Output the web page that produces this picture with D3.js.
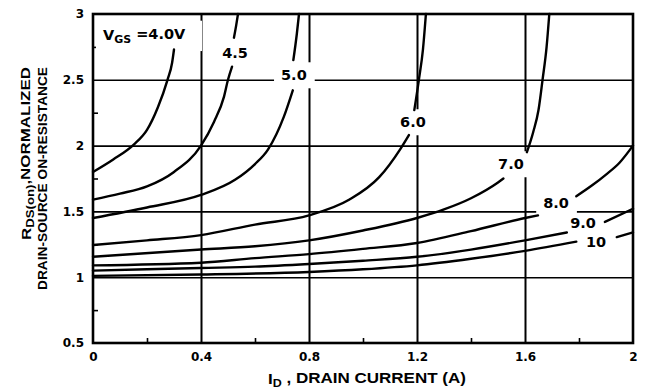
<!DOCTYPE html>
<html>
<head>
<meta charset="utf-8">
<script src="https://cdn.jsdelivr.net/npm/d3@7"></script>
<style>
  html, body { margin: 0; padding: 0; background: #fff; }
  svg { display: block; }
</style>
</head>
<body>
<svg id="chart" width="645" height="392"></svg>
<script>
// Gate-source voltage of each curve
const vgsLabels = ["4.0", "4.5", "5.0", "6.0", "7.0", "8.0", "9.0", "10"];

// [I_D (A), normalized R_DS(on)]; null breaks a curve where its label sits
const curve40 = [[0, 1.80], [0.075, 1.895], [0.152, 2.01], [0.2, 2.12], [0.24, 2.29], [0.276, 2.5], [0.293, 2.63], [0.30, 2.73]];
const curve45 = [[0, 1.59], [0.1, 1.635], [0.2, 1.69], [0.3, 1.80], [0.4, 2.0], [0.448, 2.18], [0.485, 2.37], [0.5, 2.5], [0.515, 2.6], null, [0.522, 2.82], [0.53, 2.91], [0.537, 3.0]];
const curve50 = [[0, 1.45], [0.2, 1.53], [0.4, 1.625], [0.526, 1.74], [0.6, 1.86], [0.648, 1.97], [0.707, 2.22], [0.74, 2.42], null, [0.742, 2.65], [0.755, 2.85], [0.763, 3.0]];
const curve60 = [[0, 1.245], [0.2, 1.28], [0.4, 1.32], [0.6, 1.40], [0.8, 1.47], [0.95, 1.59], [1.06, 1.76], [1.137, 1.97], [1.17, 2.08], null, [1.19, 2.27], [1.207, 2.5], [1.222, 2.73], [1.233, 3.0]];
const curve70 = [[0, 1.155], [0.4, 1.21], [0.6, 1.235], [0.8, 1.28], [1.0, 1.355], [1.2, 1.45], [1.3, 1.515], [1.4, 1.60], [1.5, 1.72], [1.52, 1.75], null, [1.607, 1.95], [1.63, 2.1], [1.65, 2.27], [1.665, 2.5], [1.68, 2.75], [1.69, 3.0]];
const curve80 = [[0, 1.09], [0.4, 1.11], [0.6, 1.145], [0.8, 1.175], [1.0, 1.215], [1.2, 1.26], [1.4, 1.35], [1.6, 1.45], [1.648, 1.47], null, [1.79, 1.615], [1.85, 1.70], [1.9, 1.78], [1.95, 1.87], [2.0, 2.0]];
const curve90 = [[0, 1.05], [0.4, 1.07], [0.6, 1.08], [0.8, 1.10], [1.0, 1.125], [1.2, 1.155], [1.4, 1.21], [1.6, 1.28], [1.755, 1.34], null, [1.896, 1.42], [2.0, 1.52]];
const curve100 = [[0, 1.01], [0.4, 1.02], [0.8, 1.04], [1.0, 1.06], [1.2, 1.09], [1.4, 1.14], [1.6, 1.20], [1.79, 1.27], null, [1.94, 1.305], [2.0, 1.34]];
const curves = [curve40, curve45, curve50, curve60, curve70, curve80, curve90, curve100];

// Where each curve's label is placed, in data units [I_D, R]
const labelAt = [[0.037, 2.844], [0.526, 2.704], [0.744, 2.536], [1.185, 2.179], [1.548, 1.860], [1.715, 1.564], [1.815, 1.412], [1.863, 1.267]];

// Axis ticks
const xTicks = [0, 0.4, 0.8, 1.2, 1.6, 2];
const yTicks = [0.5, 1, 1.5, 2, 2.5, 3];
const xGrid = [0.4, 0.8, 1.2, 1.6];
const yGrid = [1, 1.5, 2, 2.5];
const xMinor = [0.2, 0.6, 1.0, 1.4, 1.8];
const yMinor = [0.75, 1.25, 1.75, 2.25, 2.75];

const plot = { left: 93, right: 633, top: 14, bottom: 343 };
const x = d3.scaleLinear().domain([0, 2]).range([plot.left, plot.right]);
const y = d3.scaleLinear().domain([0.5, 3]).range([plot.bottom, plot.top]);
const plotH = plot.bottom - plot.top, plotW = plot.right - plot.left;

const svg = d3.select("#chart");
const gGrid = svg.append("g");
const gBox = svg.append("g");
const gCurve = svg.append("g");
const gLabel = svg.append("g");
const gFrame = svg.append("g");

const tickFont = "'DejaVu Sans', sans-serif";
const titleFont = "'Liberation Sans', Arial, sans-serif";

// Vertical grid lines
gGrid.append("g")
  .attr("transform", `translate(0,${plot.bottom})`)
  .call(d3.axisBottom(x).tickValues(xGrid).tickSize(-plotH).tickFormat(""))
  .call(g => g.select(".domain").remove())
  .selectAll("line").attr("stroke", "#000").attr("stroke-width", 2);

// Horizontal grid lines
gGrid.append("g")
  .attr("transform", `translate(${plot.left},0)`)
  .call(d3.axisLeft(y).tickValues(yGrid).tickSize(-plotW).tickFormat(""))
  .call(g => g.select(".domain").remove())
  .selectAll("line").attr("stroke", "#000").attr("stroke-width", 1.6);

// Minor ticks inside the frame
gGrid.append("g")
  .attr("transform", `translate(0,${plot.bottom})`)
  .call(d3.axisBottom(x).tickValues(xMinor).tickSize(-5).tickFormat(""))
  .call(g => g.select(".domain").remove())
  .selectAll("line").attr("stroke", "#000").attr("stroke-width", 1.6);
gGrid.append("g")
  .attr("transform", `translate(${plot.left},0)`)
  .call(d3.axisLeft(y).tickValues(yMinor).tickSize(-5).tickFormat(""))
  .call(g => g.select(".domain").remove())
  .selectAll("line").attr("stroke", "#000").attr("stroke-width", 1.6);

// Curves
const line = d3.line()
  .defined(d => d !== null)
  .x(d => x(d[0]))
  .y(d => y(d[1]))
  .curve(d3.curveMonotoneX);

gCurve.selectAll("path")
  .data(curves)
  .join("path")
  .attr("d", line)
  .attr("fill", "none")
  .attr("stroke", "#000")
  .attr("stroke-width", 2.4)
  .attr("stroke-linejoin", "round")
  .attr("stroke-linecap", "round");

// Curve labels
const labels = gLabel.selectAll("text")
  .data(vgsLabels.map((v, i) => ({ v, i, p: labelAt[i] })))
  .join("text")
  .attr("x", d => x(d.p[0]))
  .attr("y", d => y(d.p[1]))
  .attr("dy", "0.36em")
  .attr("text-anchor", d => d.i === 0 ? "start" : "middle")
  .attr("font-family", tickFont)
  .attr("font-weight", "bold")
  .attr("font-size", 14.5)
  .attr("fill", "#000");

labels.each(function (d) {
  const t = d3.select(this);
  if (d.i === 0) {
    t.append("tspan").text("V");
    t.append("tspan").attr("font-size", 11).attr("dy", "0.3em").text("GS");
    t.append("tspan").attr("dy", "-0.3em").text(" =" + d.v + "V");
  } else {
    t.text(d.v);
  }
});

// White knock-outs so grid lines break around labels that sit on them
const boxed = new Set([0, 2, 3, 4, 5]);
labels.each(function (d) {
  if (!boxed.has(d.i)) return;
  const b = this.getBBox();
  const padL = 7, padR = d.i === 0 ? 16 : 8, padV = 5;
  gBox.append("rect")
    .attr("x", b.x - padL)
    .attr("y", b.y - padV)
    .attr("width", b.width + padL + padR)
    .attr("height", b.height + padV * 2)
    .attr("fill", "#fff");
});

// Frame
gFrame.append("rect")
  .attr("x", plot.left).attr("y", plot.top)
  .attr("width", plotW).attr("height", plotH)
  .attr("fill", "none").attr("stroke", "#000").attr("stroke-width", 2.6);

// Tick labels
gFrame.append("g")
  .attr("transform", `translate(0,${plot.bottom})`)
  .call(d3.axisBottom(x).tickValues(xTicks).tickSize(0).tickPadding(9.5).tickFormat(d3.format("~g")))
  .call(g => g.select(".domain").remove())
  .selectAll("text")
  .attr("font-family", tickFont).attr("font-weight", "bold").attr("font-size", 12).attr("fill", "#000");

gFrame.append("g")
  .attr("transform", `translate(${plot.left},0)`)
  .call(d3.axisLeft(y).tickValues(yTicks).tickSize(0).tickPadding(9).tickFormat(d3.format("~g")))
  .call(g => g.select(".domain").remove())
  .selectAll("text")
  .attr("font-family", tickFont).attr("font-weight", "bold").attr("font-size", 12).attr("fill", "#000");

// X axis title
const xt = svg.append("text")
  .attr("x", 268).attr("y", 384)
  .attr("font-family", titleFont).attr("font-weight", "bold").attr("font-size", 15)
  .attr("textLength", 198).attr("lengthAdjust", "spacingAndGlyphs")
  .attr("fill", "#000");
xt.append("tspan").text("I");
xt.append("tspan").attr("font-size", 11).attr("dy", "0.25em").text("D");
xt.append("tspan").attr("dy", "-0.25em").text(" , DRAIN CURRENT (A)");

// Y axis title, two lines reading upward
const yt1 = svg.append("text")
  .attr("transform", "translate(31,67) rotate(-90)")
  .attr("text-anchor", "end")
  .attr("font-family", titleFont).attr("font-weight", "bold").attr("font-size", 13.5)
  .attr("textLength", 173).attr("lengthAdjust", "spacingAndGlyphs")
  .attr("fill", "#000");
yt1.append("tspan").text("R");
yt1.append("tspan").attr("font-size", 10.5).attr("dy", "0.3em").text("DS(on)");
yt1.append("tspan").attr("dy", "-0.3em").text(",NORMALIZED");

svg.append("text")
  .attr("transform", "translate(47,67) rotate(-90)")
  .attr("text-anchor", "end")
  .attr("font-family", titleFont).attr("font-weight", "bold").attr("font-size", 13.5)
  .attr("textLength", 223).attr("lengthAdjust", "spacingAndGlyphs")
  .attr("fill", "#000")
  .text("DRAIN-SOURCE ON-RESISTANCE");
</script>
</body>
</html>
